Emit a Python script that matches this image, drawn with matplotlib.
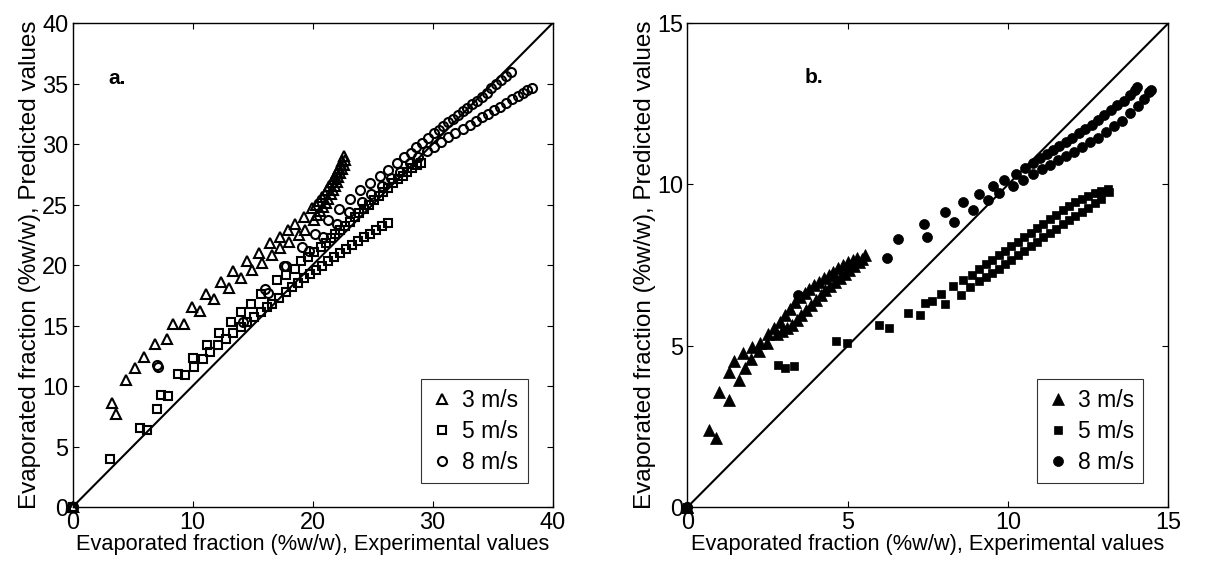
import matplotlib
matplotlib.use('Agg')
import matplotlib.pyplot as plt

plt.rcParams['font.family'] = ['Liberation Sans', 'DejaVu Sans']

# ---- panel a: open markers, two runs per air velocity ----
A_TRI1_X = [0, 3.25, 4.49, 5.95, 6.89, 8.41, 9.93, 11.14, 12.36, 13.4, 14.5, 15.55, 16.45, 17.25, 17.96, 18.57,
            19.26, 19.95, 20.3, 20.55, 20.8, 21.0, 21.2, 21.4, 21.6, 21.75, 21.9, 22.05, 22.2, 22.35, 22.48, 22.6]
A_TRI1_Y = [0, 8.6, 10.5, 12.4, 13.5, 15.1, 16.5, 17.6, 18.6, 19.5, 20.3, 21.0, 21.8, 22.3, 22.9, 23.4,
            24.0, 24.7, 25.0, 25.3, 25.6, 25.9, 26.2, 26.5, 26.85, 27.1, 27.4, 27.7, 28.0, 28.3, 28.6, 29.0]
A_TRI2_X = [0, 3.66, 5.18, 7.89, 9.27, 10.6, 11.8, 13.05, 14.0, 14.98, 15.8, 16.6, 17.27, 18.0, 18.85, 19.4,
            20.1, 20.4, 20.65, 20.9, 21.1, 21.3, 21.5, 21.7, 21.85, 22.0, 22.15, 22.3, 22.45, 22.6, 22.7]
A_TRI2_Y = [0, 7.7, 11.5, 13.9, 15.1, 16.2, 17.2, 18.1, 18.9, 19.6, 20.2, 20.8, 21.4, 21.9, 22.5, 22.9,
            23.7, 24.1, 24.45, 24.8, 25.15, 25.5, 25.85, 26.2, 26.55, 26.9, 27.25, 27.6, 27.95, 28.3, 28.7]

A_SQ1_X = [0, 3.1, 5.65, 7.06, 7.39, 8.82, 10.07, 11.2, 12.2, 13.2, 14.07, 14.9, 15.67, 17.05, 17.75, 18.5,
           19.07, 19.6, 20.1, 20.67, 21.1, 21.5, 21.9, 22.3, 22.7, 23.1, 23.5, 23.9, 24.3, 24.7, 25.1, 25.5,
           25.9, 26.3, 26.7, 27.1, 27.5, 27.9, 28.3, 28.7, 29.0]
A_SQ1_Y = [0, 3.97, 6.55, 8.07, 9.26, 10.97, 12.3, 13.4, 14.4, 15.3, 16.1, 16.8, 17.6, 18.76, 19.2, 19.7,
           20.3, 20.7, 21.1, 21.5, 21.85, 22.2, 22.55, 22.9, 23.25, 23.6, 23.95, 24.3, 24.65, 25.0, 25.35, 25.7,
           26.05, 26.4, 26.75, 27.1, 27.4, 27.7, 28.0, 28.25, 28.4]
A_SQ2_X = [0, 6.2, 7.94, 9.4, 10.1, 10.84, 11.47, 12.16, 12.77, 13.38, 14.0, 14.57, 15.1, 15.67, 16.2, 16.6,
           17.2, 17.75, 18.3, 18.8, 19.3, 19.8, 20.3, 20.8, 21.3, 21.8, 22.3, 22.8, 23.3, 23.8, 24.3, 24.8,
           25.3, 25.8, 26.3]
A_SQ2_Y = [0, 6.4, 9.2, 10.9, 11.6, 12.23, 12.8, 13.4, 13.86, 14.4, 14.9, 15.3, 15.7, 16.1, 16.55, 16.8,
           17.3, 17.8, 18.2, 18.55, 18.9, 19.25, 19.6, 19.95, 20.3, 20.65, 21.0, 21.35, 21.7, 22.0, 22.3, 22.6,
           22.9, 23.2, 23.5]

A_CI1_X = [0, 7.1, 16.0, 17.6, 19.1, 20.2, 21.3, 22.2, 23.1, 23.96, 24.8, 25.6, 26.3, 27.0, 27.6, 28.2,
           28.65, 29.1, 29.6, 30.1, 30.5, 30.9, 31.3, 31.7, 32.1, 32.5, 32.9, 33.3, 33.7, 34.1, 34.5, 34.9,
           35.3, 35.7, 36.1, 36.5]
A_CI1_Y = [0, 11.6, 18.0, 19.9, 21.5, 22.6, 23.7, 24.6, 25.5, 26.2, 26.8, 27.4, 27.9, 28.4, 28.9, 29.3,
           29.8, 30.1, 30.5, 30.9, 31.2, 31.5, 31.8, 32.1, 32.4, 32.7, 33.0, 33.3, 33.6, 33.9, 34.25, 34.6,
           34.95, 35.3, 35.65, 36.0]
A_CI2_X = [0, 7.0, 14.2, 16.3, 17.75, 19.7, 20.9, 22.0, 23.0, 24.1, 24.9, 25.75, 26.5, 27.3, 28.1, 28.8,
           29.5, 30.1, 30.7, 31.3, 31.9, 32.5, 33.1, 33.6, 34.1, 34.6, 35.1, 35.6, 36.1, 36.6, 37.1, 37.5,
           37.9, 38.3]
A_CI2_Y = [0, 11.7, 15.3, 17.7, 19.9, 21.2, 22.3, 23.4, 24.4, 25.2, 25.9, 26.5, 27.2, 27.7, 28.4, 28.9,
           29.4, 29.8, 30.2, 30.55, 30.9, 31.25, 31.6, 31.9, 32.2, 32.5, 32.8, 33.1, 33.4, 33.7, 34.0, 34.25,
           34.45, 34.6]

# ---- panel b: filled markers ----
B_TRI1_X = [0, 0.68, 0.99, 1.3, 1.45, 1.74, 2.0, 2.26, 2.5, 2.7, 2.9, 3.05, 3.2, 3.35, 3.5, 3.65, 3.8,
            3.95, 4.1, 4.25, 4.4, 4.55, 4.7, 4.85, 5.0, 5.15, 5.3, 5.53]
B_TRI1_Y = [0, 2.4, 3.57, 4.18, 4.54, 4.77, 4.96, 5.1, 5.35, 5.55, 5.75, 5.95, 6.15, 6.35, 6.5, 6.62, 6.75,
            6.87, 6.98, 7.1, 7.2, 7.3, 7.4, 7.5, 7.58, 7.65, 7.72, 7.8]
B_TRI2_X = [0, 0.89, 1.3, 1.6, 1.79, 1.97, 2.24, 2.49, 2.78, 2.95, 3.1, 3.25, 3.4, 3.55, 3.7, 3.85, 4.0,
            4.15, 4.3, 4.45, 4.6, 4.75, 4.9, 5.05, 5.2, 5.35, 5.45]
B_TRI2_Y = [0, 2.15, 3.31, 3.95, 4.31, 4.59, 4.83, 5.1, 5.35, 5.45, 5.55, 5.65, 5.8, 5.95, 6.1, 6.27, 6.42,
            6.58, 6.72, 6.86, 6.98, 7.1, 7.22, 7.35, 7.47, 7.58, 7.7]

B_SQ1_X = [0, 2.81, 3.32, 4.63, 5.98, 6.87, 7.4, 7.9, 8.27, 8.6, 8.86, 9.1, 9.3, 9.5, 9.7, 9.9, 10.1, 10.3,
           10.5, 10.7, 10.9, 11.1, 11.3, 11.5, 11.7, 11.9, 12.1, 12.3, 12.5, 12.7, 12.9, 13.1]
B_SQ1_Y = [0, 4.41, 4.38, 5.16, 5.65, 6.03, 6.32, 6.61, 6.86, 7.04, 7.2, 7.38, 7.52, 7.66, 7.8, 7.94, 8.08,
           8.22, 8.36, 8.5, 8.64, 8.78, 8.92, 9.06, 9.2, 9.33, 9.45, 9.56, 9.65, 9.74, 9.81, 9.87]
B_SQ2_X = [0, 3.04, 4.98, 6.28, 7.25, 7.61, 8.03, 8.53, 8.81, 9.1, 9.3, 9.5, 9.7, 9.9, 10.1, 10.3, 10.5,
           10.7, 10.9, 11.1, 11.3, 11.5, 11.7, 11.9, 12.1, 12.3, 12.5, 12.7, 12.9, 13.15]
B_SQ2_Y = [0, 4.31, 5.1, 5.55, 5.96, 6.4, 6.29, 6.56, 6.82, 7.0, 7.13, 7.26, 7.39, 7.52, 7.66, 7.8, 7.94,
           8.08, 8.22, 8.36, 8.5, 8.63, 8.76, 8.89, 9.02, 9.15, 9.28, 9.42, 9.56, 9.75]

B_CI1_X = [0, 3.45, 6.55, 7.38, 8.03, 8.6, 9.1, 9.54, 9.88, 10.23, 10.52, 10.78, 11.0, 11.2, 11.4, 11.6,
           11.8, 12.0, 12.2, 12.4, 12.6, 12.8, 13.0, 13.2, 13.4, 13.6, 13.8, 13.95, 14.03]
B_CI1_Y = [0, 6.58, 8.3, 8.77, 9.14, 9.45, 9.7, 9.95, 10.14, 10.32, 10.5, 10.65, 10.82, 10.95, 11.06, 11.19,
           11.32, 11.45, 11.58, 11.71, 11.85, 12.0, 12.15, 12.3, 12.45, 12.6, 12.78, 12.92, 13.02]
B_CI2_X = [0, 6.21, 7.48, 8.31, 8.91, 9.38, 9.72, 10.16, 10.47, 10.76, 11.04, 11.3, 11.55, 11.8, 12.05,
           12.3, 12.55, 12.8, 13.05, 13.3, 13.55, 13.8, 14.05, 14.25, 14.4, 14.47]
B_CI2_Y = [0, 7.71, 8.36, 8.85, 9.21, 9.52, 9.74, 9.96, 10.14, 10.32, 10.47, 10.6, 10.75, 10.88, 11.02,
           11.15, 11.3, 11.45, 11.62, 11.8, 11.98, 12.2, 12.42, 12.65, 12.85, 12.92]

LABELS = ['3 m/s', '5 m/s', '8 m/s']
XLABEL = 'Evaporated fraction (%w/w), Experimental values'
YLABEL = 'Evaporated fraction (%w/w), Predicted values'

TICK_FS = 16.9
XLAB_FS = 15.7
YLAB_FS = 17.5
LEG_FS = 16.5

fig = plt.figure(figsize=(12.11, 5.64), dpi=100)
ax_a = fig.add_axes([0.0599, 0.101, 0.3964, 0.858])
ax_b = fig.add_axes([0.5677, 0.101, 0.3972, 0.858])


def style_axes(ax, lim, xticks, yticks):
    ax.plot([0, lim], [0, lim], color='black', linewidth=1.5, zorder=1)
    ax.set_xlim(0, lim)
    ax.set_ylim(0, lim)
    ax.set_xticks(xticks)
    ax.set_yticks(yticks)
    ax.tick_params(direction='in', top=True, right=True, length=4, width=0.8,
                   labelsize=TICK_FS, pad=3)
    for s in ax.spines.values():
        s.set_linewidth(1.0)
    ax.set_xlabel(XLABEL, fontsize=XLAB_FS, labelpad=0)
    ax.set_ylabel(YLABEL, fontsize=YLAB_FS, labelpad=1)


def add_legend(ax, handles):
    leg = ax.legend(handles, LABELS, loc='lower right', bbox_to_anchor=(0.948, 0.05),
                    fontsize=LEG_FS, numpoints=1, fancybox=False, borderaxespad=0,
                    handletextpad=0.4, handlelength=1.0, labelspacing=0.35, borderpad=0.4)
    leg.get_frame().set_edgecolor('black')
    leg.get_frame().set_linewidth(0.8)


# panel a
series_a = [
    ('^', 7.5, [(A_TRI1_X, A_TRI1_Y), (A_TRI2_X, A_TRI2_Y)]),
    ('s', 5.6, [(A_SQ1_X, A_SQ1_Y), (A_SQ2_X, A_SQ2_Y)]),
    ('o', 6.5, [(A_CI1_X, A_CI1_Y), (A_CI2_X, A_CI2_Y)]),
]
handles = []
for mk, ms, runs in series_a:
    for i, (xs, ys) in enumerate(runs):
        h, = ax_a.plot(xs, ys, linestyle='none', marker=mk, markersize=ms,
                       markerfacecolor='none', markeredgecolor='black',
                       markeredgewidth=1.5, clip_on=False, zorder=3)
        if i == 0:
            handles.append(h)
style_axes(ax_a, 40, [0, 10, 20, 30, 40], range(0, 41, 5))
ax_a.text(2.95, 35.4, 'a.', fontsize=15, fontweight='bold', va='center', ha='left')
add_legend(ax_a, handles)

# panel b
series_b = [
    ('^', 8.0, [(B_TRI1_X, B_TRI1_Y), (B_TRI2_X, B_TRI2_Y)]),
    ('s', 6.3, [(B_SQ1_X, B_SQ1_Y), (B_SQ2_X, B_SQ2_Y)]),
    ('o', 7.2, [(B_CI1_X, B_CI1_Y), (B_CI2_X, B_CI2_Y)]),
]
handles = []
for mk, ms, runs in series_b:
    for i, (xs, ys) in enumerate(runs):
        h, = ax_b.plot(xs, ys, linestyle='none', marker=mk, markersize=ms,
                       markerfacecolor='black', markeredgecolor='black',
                       markeredgewidth=0.5, clip_on=False, zorder=3)
        if i == 0:
            handles.append(h)
style_axes(ax_b, 15, [0, 5, 10, 15], [0, 5, 10, 15])
ax_b.text(3.66, 13.3, 'b.', fontsize=15, fontweight='bold', va='center', ha='left')
add_legend(ax_b, handles)

fig.savefig('out.png', dpi=100)
plt.close(fig)
